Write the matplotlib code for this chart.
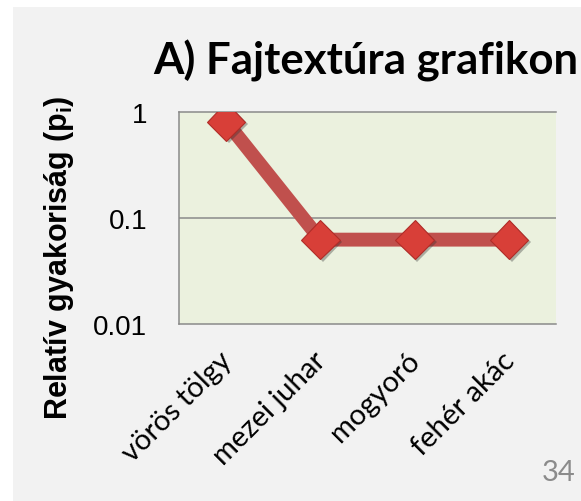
import matplotlib
matplotlib.use("Agg")
import matplotlib.pyplot as plt
import matplotlib.patheffects as pe
from matplotlib.patches import Rectangle
from matplotlib.transforms import ScaledTranslation

# data
species = ["vörös tölgy", "mezei juhar", "mogyoró", "fehér akác"]
rel_freq = [0.8125, 0.0625, 0.0625, 0.0625]
y_ticks = [0.01, 0.1, 1]
y_tick_labels = ["0.01", "0.1", "1"]

W, H = 581, 502
fig = plt.figure(figsize=(W / 100, H / 100), dpi=100, facecolor="white")

plt.rcParams['mathtext.fontset'] = 'custom'
plt.rcParams['mathtext.bf'] = 'Liberation Sans:bold'
plt.rcParams['mathtext.rm'] = 'Liberation Sans:bold'

# slide-like gray background
fig.patches.append(Rectangle((13 / W, 0), 1, 1 - 8 / H, transform=fig.transFigure,
                             facecolor="#f2f2f2", edgecolor="none", zorder=-10))

ax = fig.add_axes([179 / W, 1 - 325 / H, 377 / W, 212 / H])
ax.set_facecolor("#ebf1de")

x = range(len(species))
ax.plot(x, rel_freq, color="#c0504d", lw=10, solid_capstyle="butt", zorder=3)
ax.plot(x, rel_freq, ls="none", marker="D", markersize=19.5, color="#d83f38",
        markeredgecolor="#b02c28", markeredgewidth=0.8, zorder=4,
        path_effects=[pe.SimplePatchShadow(offset=(2, -2), shadow_rgbFace="#303030", alpha=0.35),
                      pe.Normal()])

ax.set_yscale("log")
ax.set_ylim(0.01, 1)
ax.set_xlim(-0.5, len(species) - 0.5)
ax.set_yticks(y_ticks)
ax.set_yticklabels(y_tick_labels, fontsize=20, family="Liberation Sans")
ax.yaxis.set_minor_locator(matplotlib.ticker.NullLocator())
ax.tick_params(axis="y", length=0, pad=23)
ax.axhline(0.1, color="#8a8a8a", lw=1.1, zorder=1)

ax.set_xticks(list(x))
ax.set_xticklabels(species, rotation=45, ha="right", va="baseline",
                   rotation_mode="anchor", fontsize=21, family="Lato")
ax.tick_params(axis="x", length=0, pad=27)
shift = ScaledTranslation(7 / 100, 0, fig.dpi_scale_trans)
for lab in ax.get_xticklabels():
    lab.set_transform(lab.get_transform() + shift)

for side in ["top", "bottom", "left"]:
    ax.spines[side].set_color("#8a8a8a")
    ax.spines[side].set_linewidth(1.1)
ax.spines["right"].set_visible(False)

fig.text(153 / W, 1 - 75 / H, "A) Fajtextúra grafikon", ha="left", va="baseline",
         fontsize=31.5, fontweight="bold", family="Lato")
fig.text(59 / W, 1 - 258 / H, r"Relatív gyakoriság (p$_{\mathbf{i}}$)", rotation=90,
         ha="center", va="center", fontsize=22, fontweight="bold",
         family="Liberation Sans")
fig.text(576 / W, 1 - 481 / H, "34", ha="right", va="baseline", fontsize=21,
         color="#8b8b8b", family="Lato")

fig.savefig("out.png", dpi=100, facecolor=fig.get_facecolor())
